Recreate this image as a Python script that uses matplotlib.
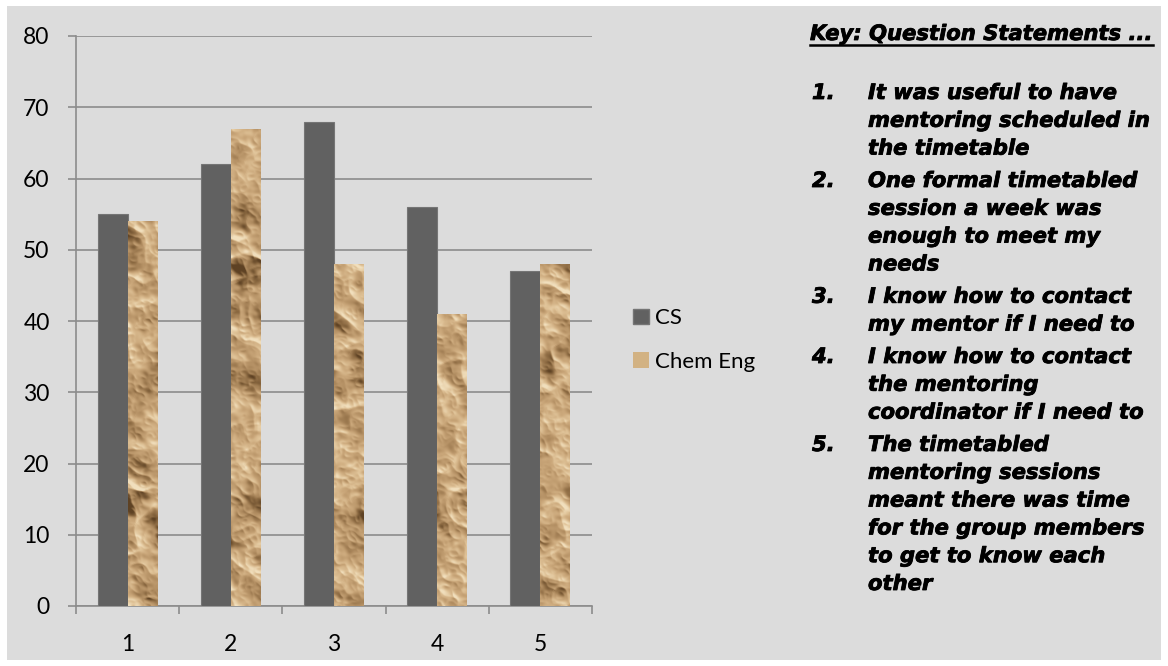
import numpy as np
import matplotlib.pyplot as plt
from matplotlib.patches import Rectangle, Patch
from matplotlib.colors import LinearSegmentedColormap
import matplotlib.patheffects as pe

# survey results, percent agreeing with each statement
questions = ['1', '2', '3', '4', '5']
cs = [55, 62, 68, 56, 47]
chem_eng = [54, 67, 48, 41, 48]

key_title = 'Key: Question Statements ...'
key_items = [
    ('1.', ['It was useful to have', 'mentoring scheduled in', 'the timetable']),
    ('2.', ['One formal timetabled', 'session a week was', 'enough to meet my', 'needs']),
    ('3.', ['I know how to contact', 'my mentor if I need to']),
    ('4.', ['I know how to contact', 'the mentoring', 'coordinator if I need to']),
    ('5.', ['The timetabled', 'mentoring sessions', 'meant there was time',
            'for the group members', 'to get to know each', 'other']),
]


def lowpass(noise, scale, stretch=1.0):
    rows, cols = noise.shape
    fy = np.fft.fftfreq(rows)[:, None]
    fx = np.fft.fftfreq(cols)[None, :]
    filt = np.exp(-(fx ** 2 + (fy * stretch) ** 2) / (2 * scale ** 2))
    out = np.real(np.fft.ifft2(np.fft.fft2(noise) * filt))
    return out / out.std()


def paper_texture(rows, cols, seed=11):
    # crumpled brown paper: folded height field lit from the upper left
    rng = np.random.default_rng(seed)
    height = np.zeros((rows, cols))
    for scale, w in [(0.011, 1.0), (0.025, 0.45), (0.06, 0.15)]:
        height -= w * np.abs(lowpass(rng.normal(size=(rows, cols)), scale, 0.9))
    gy, gx = np.gradient(height)
    shade = -(gx * 0.6 - gy * 0.8)
    shade = (shade - shade.mean()) / shade.std()
    hnorm = (height - height.mean()) / height.std()
    val = 0.57 + 0.15 * shade + 0.10 * hnorm
    return np.clip(val, 0, 1)


plt.rcParams['font.family'] = ['Lato', 'DejaVu Sans']

fig = plt.figure(figsize=(11.68, 6.66), dpi=100)
fig.patch.set_facecolor('white')
fig.patches.append(Rectangle((7 / 1168, 6 / 666), 1154 / 1168, 654 / 666,
                             transform=fig.transFigure, facecolor='#dcdcdc',
                             edgecolor='none', zorder=-10))

ax = fig.add_axes([76 / 1168, 60 / 666, 516 / 1168, 570 / 666])
ax.set_facecolor('none')

x = np.arange(len(questions))
width = 0.29
ax.bar(x - width / 2, cs, width, color='#616161', edgecolor='#757575',
       linewidth=0.8, zorder=3, label='CS')
paper_bars = ax.bar(x + width / 2, chem_eng, width, color='#c6a072',
                    edgecolor='none', zorder=3, label='Chem Eng')

tex = paper_texture(640, 240)
cmap = LinearSegmentedColormap.from_list(
    'paper', ['#5e4224', '#8c6a42', '#b38f63', '#cba87b', '#dfc297', '#f1dfbd'])
for i, (bar, h) in enumerate(zip(paper_bars, chem_eng)):
    rows = int(round(h / 80 * 640))
    c0 = 5 + i * 46
    piece = tex[640 - rows:, c0:c0 + 34]
    x0 = bar.get_x()
    im = ax.imshow(piece, cmap=cmap, vmin=0, vmax=1,
                   extent=(x0, x0 + width, 0, h),
                   aspect='auto', interpolation='bilinear', zorder=4)
    im.set_clip_path(bar)

ax.set_xlim(-0.5, len(questions) - 0.5)
ax.set_ylim(0, 80)
ax.set_yticks(np.arange(0, 81, 10))
ax.set_xticks(x)
ax.set_xticklabels(questions)
ax.set_xticks(np.arange(-0.5, len(questions)), minor=True)
ax.yaxis.grid(True, color='#8c8c8c', linewidth=1.2, zorder=0)
ax.set_axisbelow(True)

for side in ['top', 'right']:
    ax.spines[side].set_visible(False)
for side in ['left', 'bottom']:
    ax.spines[side].set_color('#8c8c8c')
    ax.spines[side].set_linewidth(1.2)

ax.tick_params(axis='x', which='major', length=0, pad=20, labelsize=16.5)
ax.tick_params(axis='x', which='minor', length=6, width=1.2, color='#8c8c8c')
ax.tick_params(axis='y', length=6, width=1.2, color='#8c8c8c', pad=13,
               labelsize=16.5)

handles = [Patch(facecolor='#616161', edgecolor='#757575', label='CS'),
           Patch(facecolor='#d2b283', edgecolor='none', label='Chem Eng')]
fig.legend(handles=handles, loc='center left',
           bbox_to_anchor=(633 / 1168, 1 - 340 / 666), frameon=False,
           fontsize=16, handlelength=0.7, handleheight=0.7,
           handletextpad=0.3, labelspacing=1.05, borderpad=0,
           borderaxespad=0)

# question key on the right
heavy = [pe.withStroke(linewidth=0.6, foreground='black')]
key_font = dict(family='DejaVu Sans', weight='bold', style='italic',
                size=15.2, color='black', path_effects=heavy)
title = fig.text(810 / 1168, 1 - 34 / 666, key_title, va='center', ha='left',
                 **key_font)
fig.canvas.draw()
bb = title.get_window_extent()
fig.add_artist(plt.Line2D([bb.x0, bb.x1], [bb.y0 - 1, bb.y0 - 1],
                          transform=None, color='black', linewidth=1.8))

line_h = 27.8
y = 93
for num, lines in key_items:
    fig.text(812 / 1168, 1 - y / 666, num, va='center', ha='left', **key_font)
    for ln in lines:
        fig.text(868 / 1168, 1 - y / 666, ln, va='center', ha='left',
                 **key_font)
        y += line_h
    y += 4.6

fig.savefig('out.png', dpi=100)
